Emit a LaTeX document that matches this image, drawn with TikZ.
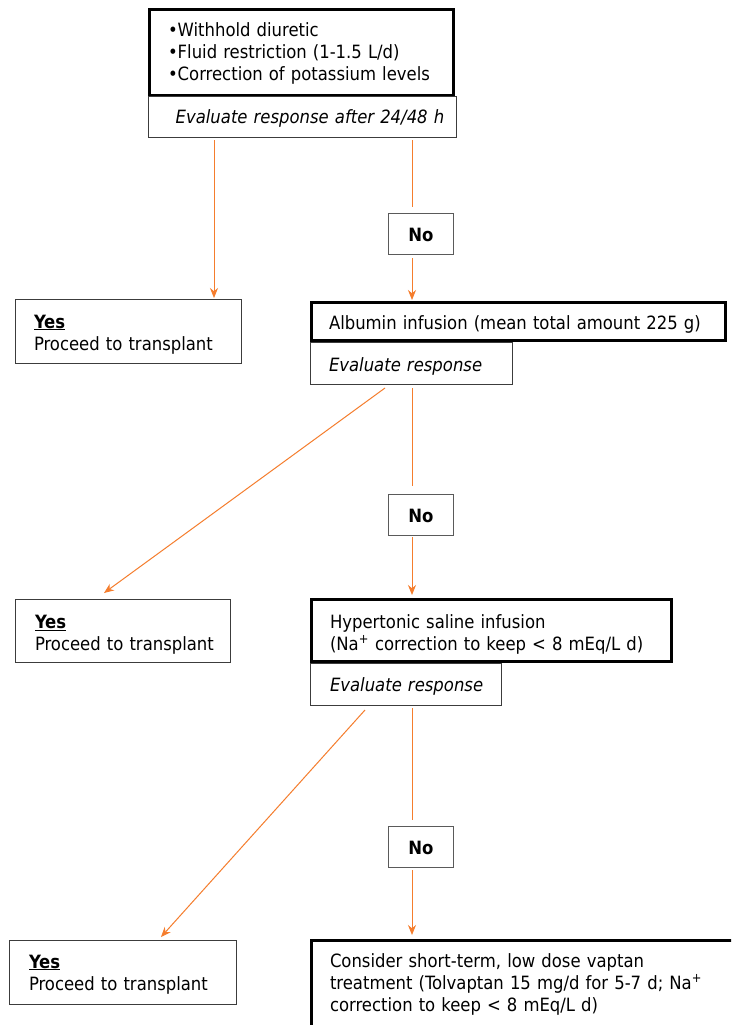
\documentclass[tikz,border=0pt]{standalone}
\usepackage{fontspec}
\setmainfont{DejaVu Sans Condensed}[BoldFont={DejaVu Sans Condensed Bold},ItalicFont={DejaVu Sans Condensed Oblique},BoldItalicFont={DejaVu Sans Condensed Bold Oblique}]
\usetikzlibrary{arrows.meta,calc}
\definecolor{arrorange}{RGB}{245,125,45}
\definecolor{boxgray}{RGB}{60,60,60}
\definecolor{nogray}{RGB}{90,90,90}
\newcommand\tst[1]{\rule{0pt}{#1pt}}
\newcommand\bst[1]{\rule[-#1pt]{0pt}{#1pt}}
\newcommand\yesline{\underline{\textbf{Yes}}}
\begin{document}
\begin{tikzpicture}[x=1pt,y=-1pt,
  every node/.style={font=\fontsize{18.3}{22}\selectfont},
  basebox/.style={anchor=north west, inner ysep=0pt, align=left},
  thickbox/.style={basebox, draw=black, line width=3pt},
  thinbox/.style={basebox, draw=boxgray, line width=1.4pt},
  nobox/.style={basebox, draw=nogray, line width=1.4pt, align=center, inner xsep=0pt, text width=64.6pt, font=\fontsize{18.3}{22}\selectfont\bfseries},
  conn/.style={draw=arrorange, line width=1pt},
  arr/.style={conn, -{Stealth[length=10pt,width=8pt]}}
]
\useasboundingbox (0,0) rectangle (731,1025);
\clip (0,0) rectangle (731,1025);
\fill[white] (0,0) rectangle (731,1025);

% top block
\node[thickbox, inner xsep=18.5pt, text width=267pt] (top) at (148,8)
  {\tst{27.5}\mbox{•Withhold diuretic}\\\mbox{•Fluid restriction (1-1.5 L/d)}\\\mbox{•Correction of potassium levels}\bst{14.5}};
\node[thinbox, inner xsep=27pt, text width=253.6pt] (eval1) at (148,96)
  {\tst{26.3}\mbox{\itshape Evaluate response after 24/48 h}\bst{14.3}};

\node[nobox] (no1) at (388,213) {\tst{27.3}No\bst{13.3}};
\node[thinbox, inner xsep=18.3pt, text width=189pt] (yes1) at (15,299)
  {\tst{28.3}\yesline\\\mbox{Proceed to transplant}\bst{13.3}};

% albumin block
\node[thickbox, inner xsep=17.5pt, text width=379pt] (alb) at (310,301)
  {\tst{26.5}\mbox{Albumin infusion (mean total amount 225 g)}\bst{11.5}};
\node[thinbox, inner xsep=18.3pt, text width=165pt] (eval2) at (310,342)
  {\tst{28.3}\mbox{\itshape Evaluate response}\bst{13.3}};

\node[nobox] (no2) at (388,494) {\tst{27.3}No\bst{13.3}};
\node[thinbox, inner xsep=19.3pt, text width=176pt] (yes2) at (15,599)
  {\tst{28.8}\yesline\\\mbox{Proceed to transplant}\bst{11.8}};

% hypertonic block
\node[thickbox, inner xsep=18.5pt, text width=323pt] (hyp) at (310,598)
  {\tst{28.5}\mbox{Hypertonic saline infusion}\\\mbox{(Na\textsuperscript{+} correction to keep < 8 mEq/L d)}\bst{11.5}};
\node[thinbox, inner xsep=19.3pt, text width=152pt] (eval3) at (310,663)
  {\tst{27.3}\mbox{\itshape Evaluate response}\bst{14.3}};

\node[nobox] (no3) at (388,826) {\tst{27.3}No\bst{13.3}};
\node[thinbox, inner xsep=19.3pt, text width=188pt] (yes3) at (9,940)
  {\tst{27.3}\yesline\\\mbox{Proceed to transplant}\bst{14.3}};

% vaptan block
\node[thickbox, inner xsep=18.5pt, text width=410pt] (cons) at (310,939)
  {\tst{26.5}\mbox{Consider short-term, low dose vaptan}\\\mbox{treatment (Tolvaptan 15 mg/d for 5-7 d; Na\textsuperscript{+}}\\\mbox{correction to keep < 8 mEq/L d)}\bst{25}};

% connectors
\draw[arr]  ($(eval1.south west)+(66,2)$)  -- ($(yes1.north west)+(199,-1)$);
\draw[conn] ($(eval1.south west)+(264,2)$) -- ($(no1.north west)+(24,-6)$);
\draw[arr]  ($(no1.south west)+(24,3)$)    -- ($(alb.north west)+(102,-1)$);

\draw[arr]  ($(eval2.south west)+(75,3)$)  -- ($(yes2.north west)+(89,-6)$);
\draw[conn] ($(eval2.south west)+(102,3)$) -- ($(no2.north west)+(24,-8)$);
\draw[arr]  ($(no2.south west)+(24,1)$)    -- ($(hyp.north west)+(102,-3)$);

\draw[arr]  ($(eval3.south west)+(55,4)$)  -- ($(yes3.north west)+(152,-3)$);
\draw[conn] ($(eval3.south west)+(102,2)$) -- ($(no3.north west)+(24,-6)$);
\draw[arr]  ($(no3.south west)+(24,2)$)    -- ($(cons.north west)+(102,-4)$);
\end{tikzpicture}
\end{document}
